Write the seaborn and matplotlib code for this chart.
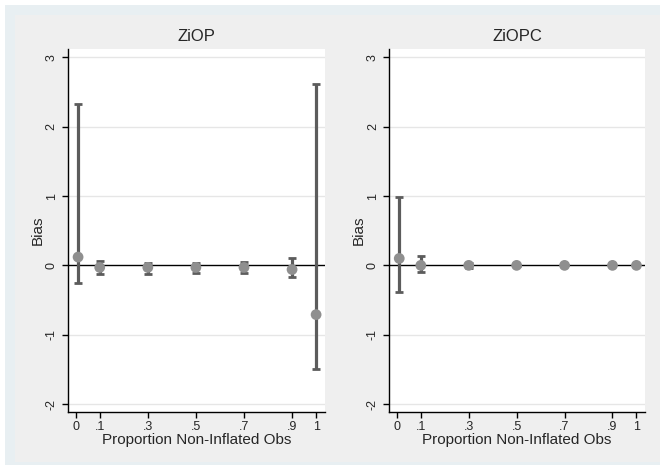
import matplotlib
matplotlib.use("Agg")
import matplotlib.pyplot as plt
import seaborn as sns
import pandas as pd
from matplotlib.patches import Rectangle

sns.set_theme(style="white")
plt.rcParams['font.family'] = ['Liberation Sans', 'DejaVu Sans']

# Data
prop = [0.01, 0.1, 0.3, 0.5, 0.7, 0.9, 1.0]
ziop_bias = [0.12, -0.03, -0.03, -0.03, -0.03, -0.06, -0.71]
ziop_lo = [-0.25, -0.13, -0.12, -0.11, -0.11, -0.17, -1.50]
ziop_hi = [2.33, 0.07, 0.04, 0.04, 0.05, 0.11, 2.61]
ziopc_bias = [0.10, 0.00, 0.00, 0.00, 0.00, 0.00, 0.00]
ziopc_lo = [-0.39, -0.10, -0.04, -0.01, 0.0, 0.0, 0.0]
ziopc_hi = [0.98, 0.13, 0.04, 0.01, 0.0, 0.0, 0.0]
titles = ["ZiOP", "ZiOPC"]
xticks = [0, 0.1, 0.3, 0.5, 0.7, 0.9, 1]
xticklabels = ["0", ".1", ".3", ".5", ".7", ".9", "1"]
yticks = [-2, -1, 0, 1, 2, 3]

fig = plt.figure(figsize=(6.6, 4.65), dpi=100)
fig.patch.set_facecolor("white")
fig.patches.append(Rectangle((5/660, 0), 655/660, 1 - 5/465, transform=fig.transFigure,
                             facecolor="#e8eff2", edgecolor="none", zorder=-10))
fig.patches.append(Rectangle((15/660, 3/465), 646/660, 1 - 18/465, transform=fig.transFigure,
                             facecolor="#efefef", edgecolor="none", zorder=-9))

axes = [fig.add_axes([67.5/660, 1 - 411.7/465, 257.5/660, 362.7/465]),
        fig.add_axes([388.7/660, 1 - 411.7/465, 256.6/660, 362.7/465])]

series = [(ziop_bias, ziop_lo, ziop_hi), (ziopc_bias, ziopc_lo, ziopc_hi)]
for ax, title, (b, lo, hi) in zip(axes, titles, series):
    df = pd.DataFrame({"prop": prop, "bias": b, "lo": lo, "hi": hi})
    ax.set_facecolor("white")
    for yv in [-2, -1, 1, 2, 3]:
        ax.axhline(yv, color="#e6e6e6", lw=1.0, zorder=0)
    ax.axhline(0, color="black", lw=1.0, zorder=1)
    ax.errorbar(df["prop"], df["bias"],
                yerr=[df["bias"] - df["lo"], df["hi"] - df["bias"]],
                fmt="none", ecolor="#5c5c5c", elinewidth=2.3, capsize=3.2, capthick=2.0, zorder=2)
    sns.scatterplot(data=df, x="prop", y="bias", ax=ax, color="#8f8f8f", s=60,
                    edgecolor="none", zorder=3)
    ax.set_xlim(-0.034, 1.037)
    ax.set_ylim(-2.11, 3.12)
    ax.set_xticks(xticks)
    ax.set_xticklabels(xticklabels, fontsize=9)
    ax.set_yticks(yticks)
    ax.set_yticklabels([str(v) for v in yticks], fontsize=9, rotation=90, va="center")
    ax.tick_params(axis="both", direction="out", length=4, width=1, color="black", pad=3, bottom=True, left=True)
    for s in ["top", "right"]:
        ax.spines[s].set_visible(False)
    for s in ["left", "bottom"]:
        ax.spines[s].set_color("black")
        ax.spines[s].set_linewidth(1.0)
    ax.set_xlabel("Proportion Non-Inflated Obs", fontsize=11, labelpad=0)
    ax.set_ylabel("Bias", fontsize=11, labelpad=1)
    ax.set_title(title, fontsize=12, pad=6)
    ax.grid(False)

fig.savefig("out.png", dpi=100, facecolor=fig.get_facecolor())
